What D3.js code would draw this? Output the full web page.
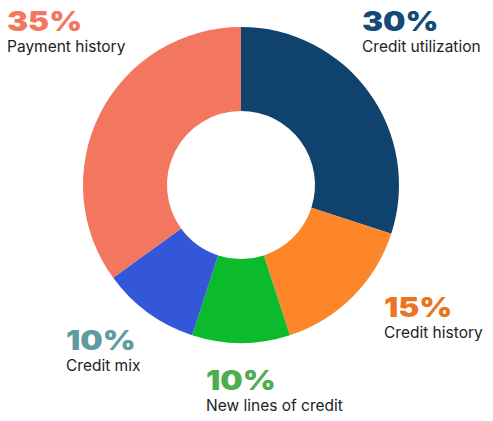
<!DOCTYPE html>
<html>
<head>
<meta charset="utf-8">
<script src="https://cdn.jsdelivr.net/npm/d3@7"></script>
<style>
  body { margin: 0; background: #fff; }
  #chart { width: 493px; height: 421px; }
</style>
</head>
<body>
<div id="chart"></div>
<script>
const categories = ["Credit utilization", "Credit history", "New lines of credit", "Credit mix", "Payment history"]
const shares = [30, 15, 10, 10, 35]
const sliceColors = ["#10426e", "#fd8629", "#0bbb2b", "#3457d9", "#f3765f"]
const labelColors = ["#134a78", "#ea7420", "#4eae4f", "#5f9ba3", "#f3765f"]
// label anchor (left x, percent baseline) per category
const labelPos = [[362, 31], [384, 317], [206, 390], [66, 350], [7, 31]]

const width = 493, height = 421
const cx = 241, cy = 185
const outerR = 158, innerR = 74

const svg = d3.select("#chart").append("svg")
    .attr("width", width)
    .attr("height", height)

const pie = d3.pie().sort(null).value(d => d)
const arc = d3.arc().innerRadius(innerR).outerRadius(outerR)

svg.append("g")
    .attr("transform", `translate(${cx}, ${cy})`)
  .selectAll("path")
    .data(pie(shares))
  .enter().append("path")
    .attr("d", arc)
    .attr("fill", (d, i) => sliceColors[i])

const labels = svg.selectAll(".label")
    .data(categories)
  .enter().append("g")
    .attr("class", "label")
    .attr("transform", (d, i) => `translate(${labelPos[i][0]}, ${labelPos[i][1]})`)

// the percent figures use a wide heavy face, so stretch a bit
labels.append("text")
    .attr("transform", "scale(1.17, 1)")
    .attr("font-family", "Inter, Lato, sans-serif")
    .attr("font-weight", 900)
    .attr("font-size", 27)
    .attr("fill", (d, i) => labelColors[i])
    .text((d, i) => `${shares[i]}%`)

labels.append("text")
    .attr("y", 21)
    .attr("font-family", "Inter, Lato, sans-serif")
    .attr("font-size", 15.5)
    .attr("fill", "#222")
    .text(d => d)
</script>
</body>
</html>
